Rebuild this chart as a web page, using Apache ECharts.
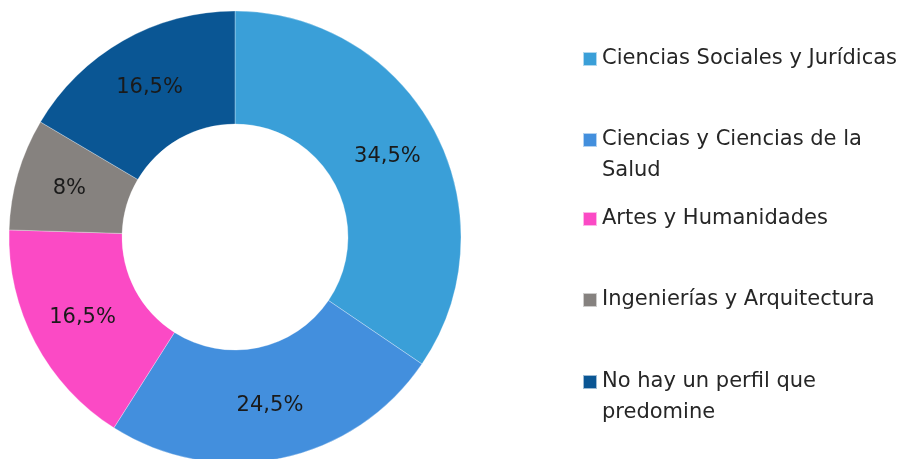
<!DOCTYPE html>
<html>
<head>
<meta charset="utf-8">
<script src="https://cdn.jsdelivr.net/npm/echarts@6/dist/echarts.min.js"></script>
<style>html,body{margin:0;padding:0;background:#fff}#c{width:902px;height:459px}</style>
</head>
<body>
<div id="c"></div>
<script>
const categories = ['Ciencias Sociales y Jurídicas', 'Ciencias y Ciencias de la Salud', 'Artes y Humanidades', 'Ingenierías y Arquitectura', 'No hay un perfil que predomine'];
const legendLabels = ['Ciencias Sociales y Jurídicas', 'Ciencias y Ciencias de la\nSalud', 'Artes y Humanidades', 'Ingenierías y Arquitectura', 'No hay un perfil que\npredomine'];
const values = [34.5, 24.5, 16.5, 8, 16.5];
const colors = ['#3A9FD8', '#438FDD', '#FB4AC5', '#86827F', '#0A5694'];

const chart = echarts.init(document.getElementById('c'), null, {renderer: 'canvas'});
const FONT = 'DejaVu Sans';
const legendCenters = [59, 140, 219, 300, 382];
const legends = categories.map((name, i) => {
  const twoLine = legendLabels[i].indexOf('\n') >= 0;
  const boxCenter = twoLine ? 46.5 : 15.5;
  return {
    data: [name],
    orient: 'vertical',
    left: 582,
    top: legendCenters[i] - boxCenter,
    padding: 0,
    icon: 'rect',
    itemWidth: 14,
    itemHeight: 14,
    selectedMode: false,
    formatter: () => (twoLine ? ' \n' : '') + legendLabels[i],
    textStyle: {
      fontFamily: FONT,
      fontSize: 21,
      color: '#262626',
      lineHeight: 31
    }
  };
});

chart.setOption({
  animation: false,
  color: colors,
  legend: legends,
  series: [{
    type: 'pie',
    center: [235, 237],
    radius: [113, 226],
    startAngle: 90,
    clockwise: true,
    avoidLabelOverlap: false,
    itemStyle: {borderColor: 'rgba(255,255,255,0.6)', borderWidth: 0.5},
    label: {
      show: true,
      position: 'inside',
      fontFamily: FONT,
      fontSize: 21,
      color: '#1a1a1a',
      formatter: p => String(p.value).replace('.', ',') + '%'
    },
    labelLine: {show: false},
    emphasis: {disabled: true},
    data: categories.map((n, i) => ({name: n, value: values[i]}))
  }]
});
</script>
</body>
</html>
